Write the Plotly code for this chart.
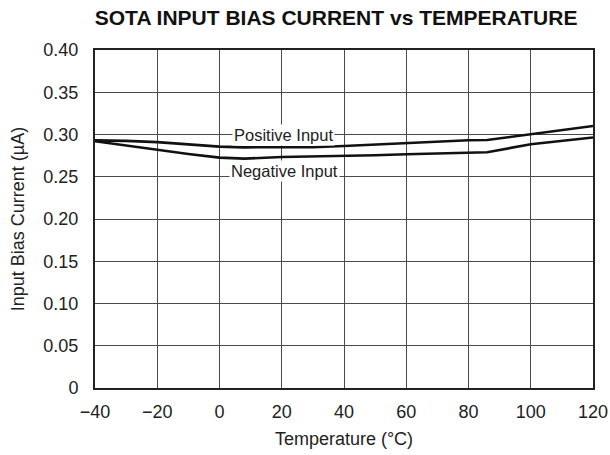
import plotly.graph_objects as go

temperature = [-40, -30, -20, -10, 0, 8, 20, 30, 40, 50, 60, 70, 80, 86, 100, 110, 120]
positive_input = [0.293, 0.2925, 0.291, 0.288, 0.2857, 0.2848, 0.2845, 0.285, 0.2864, 0.288,
                  0.2904, 0.292, 0.2932, 0.2935, 0.300, 0.305, 0.310]
negative_input = [0.292, 0.287, 0.2817, 0.277, 0.2726, 0.2714, 0.2734, 0.274, 0.2745, 0.2755,
                  0.2766, 0.2778, 0.2786, 0.279, 0.2884, 0.2925, 0.2964]

x_ticks = [-40, -20, 0, 20, 40, 60, 80, 100, 120]
x_tick_labels = ["\u221240", "\u221220", "0", "20", "40", "60", "80", "100", "120"]
y_ticks = [0, 0.05, 0.10, 0.15, 0.20, 0.25, 0.30, 0.35, 0.40]
y_tick_labels = ["0", "0.05", "0.10", "0.15", "0.20", "0.25", "0.30", "0.35", "0.40"]

FONT = "Liberation Sans, Arial, sans-serif"

fig = go.Figure()
fig.add_trace(go.Scatter(x=temperature, y=positive_input, mode="lines",
                         line=dict(color="#111", width=2.6), name="Positive Input"))
fig.add_trace(go.Scatter(x=temperature, y=negative_input, mode="lines",
                         line=dict(color="#111", width=2.6), name="Negative Input"))

fig.add_annotation(x=20.5, y=0.30, text="Positive Input", showarrow=False,
                   bgcolor="white", borderpad=1, font=dict(size=16.5, color="#222", family=FONT))
fig.add_annotation(x=21, y=0.2565, text="Negative Input", showarrow=False,
                   bgcolor="white", borderpad=1, font=dict(size=16.5, color="#222", family=FONT))

fig.update_layout(
    width=610, height=455,
    margin=dict(l=95, r=17, t=50, b=67),
    paper_bgcolor="white", plot_bgcolor="white",
    showlegend=False,
    font=dict(family=FONT, size=18, color="#222"),
    title=dict(text="<b>SOTA INPUT BIAS CURRENT vs TEMPERATURE</b>", x=0.551, xanchor="center",
               y=0.962, yanchor="middle", automargin=False,
               font=dict(size=21, color="#111", family=FONT)),
    xaxis=dict(range=[-40, 120], tickvals=x_ticks, ticktext=x_tick_labels,
               showgrid=True, gridcolor="#4a4a4a", gridwidth=1, zeroline=False,
               showline=True, linecolor="#222", linewidth=2, mirror=True,
               ticks="", ticklabelstandoff=6, automargin=False,
               title=dict(text="Temperature (\u00b0C)", standoff=12,
                          font=dict(size=18, family=FONT))),
    yaxis=dict(range=[0, 0.40], tickvals=y_ticks, ticktext=y_tick_labels,
               showgrid=True, gridcolor="#4a4a4a", gridwidth=1, zeroline=False,
               showline=True, linecolor="#222", linewidth=2, mirror=True,
               ticks="", ticklabelstandoff=11, automargin=False,
               title=dict(text="Input Bias Current (\u00b5A)", standoff=14,
                          font=dict(size=18, family=FONT))),
)

fig.write_html("out.html", config={"displayModeBar": False},
               post_script="document.body.style.margin='0px';document.body.style.overflow='hidden';")
